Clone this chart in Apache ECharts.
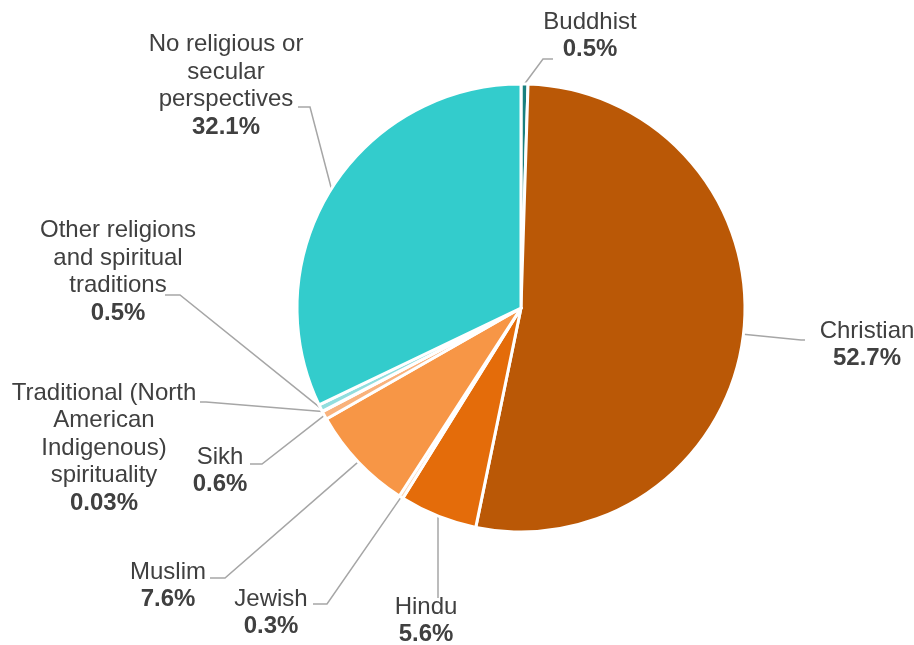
<!DOCTYPE html>
<html>
<head>
<meta charset="utf-8">
<script src="https://cdn.jsdelivr.net/npm/echarts@6/dist/echarts.min.js"></script>
<style>html,body{margin:0;padding:0;background:#fff;}#c{width:914px;height:645px;}</style>
</head>
<body>
<div id="c"></div>
<script>
const categories = ['Buddhist', 'Christian', 'Hindu', 'Jewish', 'Muslim', 'Sikh',
  'Traditional (North\nAmerican\nIndigenous)\nspirituality',
  'Other religions\nand spiritual\ntraditions',
  'No religious or\nsecular\nperspectives'];
const values = [0.5, 52.7, 5.6, 0.3, 7.6, 0.6, 0.03, 0.5, 32.1];
const valueLabels = ['0.5%', '52.7%', '5.6%', '0.3%', '7.6%', '0.6%', '0.03%', '0.5%', '32.1%'];

const colors = ['#1A7F7E', '#BA5806', '#E46C0A', '#FCD5B4', '#F79646', '#F9B27C', '#D9F2F2', '#92DEDE', '#33CCCC'];
// label block centres
const labelPos = [[590, 36], [867, 345], [426, 621], [271, 613], [168, 586], [220, 471], [104, 448], [118, 272], [226, 86]];
// where each leader line meets its label, and the length of its short horizontal stub
const lineEnds = [[553, 59], [805, 340], [438, 598], [313, 604], [210, 578], [250, 464], [200, 402], [165, 295], [298, 107]];
const stubs = [-10, -4, 0, 14, 15, 12, 6, 15, 12];

const chart = echarts.init(document.getElementById('c'), null, {renderer: 'canvas'});
chart.setOption({
  backgroundColor: '#ffffff',
  animation: false,
  series: [{
    type: 'pie',
    center: [521, 308],
    radius: 224,
    startAngle: 90,
    clockwise: true,
    avoidLabelOverlap: false,
    minShowLabelAngle: 0,
    itemStyle: {borderColor: '#ffffff', borderWidth: 3},
    data: categories.map((n, i) => ({name: n, value: values[i], itemStyle: {color: colors[i]}})),
    label: {
      show: true,
      align: 'center',
      formatter: p => '{n|' + p.name + '}\n{p|' + valueLabels[p.dataIndex] + '}',
      rich: {
        n: {fontFamily: 'Liberation Sans, Arial', fontSize: 24, color: '#404040', lineHeight: 27.5, align: 'center'},
        p: {fontFamily: 'Liberation Sans, Arial', fontSize: 24, fontWeight: 'bold', color: '#404040', lineHeight: 27.5, align: 'center'}
      }
    },
    labelLine: {show: true, length: 20, length2: 12, lineStyle: {color: '#A6A6A6', width: 1.5}},
    labelLayout: function (params) {
      const i = params.dataIndex;
      const pos = labelPos[i];
      const start = params.labelLinePoints ? params.labelLinePoints[0] : null;
      const end = lineEnds[i];
      const out = {x: pos[0], y: pos[1], align: 'center', verticalAlign: 'middle'};
      if (start) {
        out.labelLinePoints = [[start[0], start[1]], [end[0] + stubs[i], end[1]], [end[0], end[1]]];
      }
      return out;
    }
  }]
});
</script>
</body>
</html>
